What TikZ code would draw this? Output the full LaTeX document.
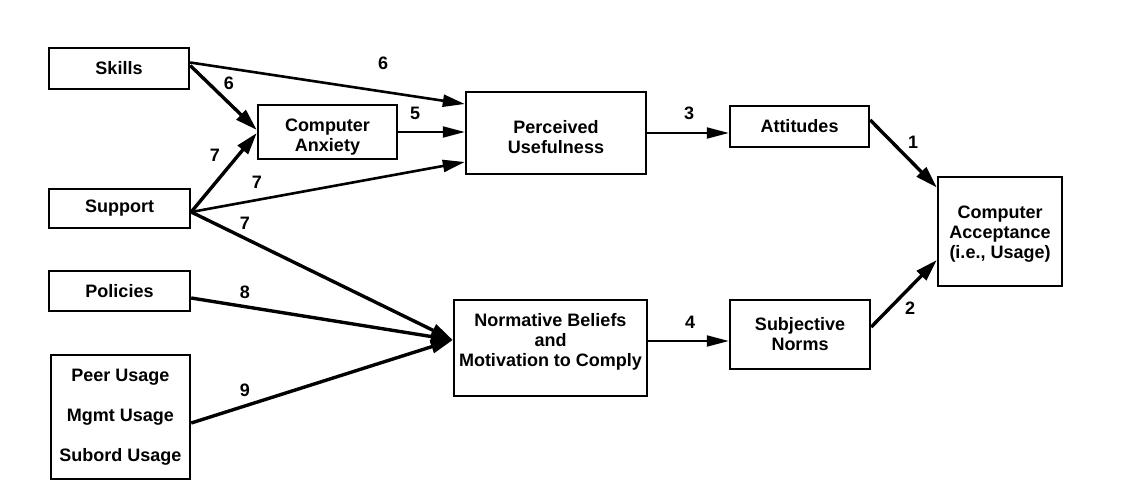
\documentclass[tikz,border=0pt]{standalone}
\usepackage{fontspec}
\setmainfont{Liberation Sans}
\usetikzlibrary{arrows.meta}
\begin{document}
\begin{tikzpicture}[x=1pt,y=-1pt,
  font=\fontsize{18}{20}\selectfont\bfseries,
  box/.style={draw,line width=2.4pt,inner sep=0pt,align=center},
  txt/.style={inner sep=0pt,align=center},
  num/.style={inner sep=0pt},
  heavy/.style={line width=3.4pt,-{Triangle[length=22pt,width=13pt]}},
  medium/.style={line width=2.6pt,-{Triangle[length=22pt,width=12pt]}},
  light/.style={line width=2pt,-{Triangle[length=22pt,width=11pt]}}]
\useasboundingbox (0,0) rectangle (1142,497);

% boxes
\node[box,minimum width=140pt,minimum height=41pt] (skills) at (119,68.5) {Skills};
\node[box,minimum width=141pt,minimum height=39pt] (support) at (119.5,208.5) {Support};
\node[box,minimum width=141pt,minimum height=40pt] (policies) at (119.5,291) {Policies};
\node[box,minimum width=139pt,minimum height=124pt] (peer) at (120.5,417)
  {Peer Usage\\[20pt]Mgmt Usage\\[20pt]Subord Usage};
\node[box,minimum width=139pt,minimum height=54pt] (ca) at (327.5,132) {};
\node[txt] (catext) at (327.5,137) {Computer\\Anxiety};
\node[box,minimum width=180pt,minimum height=82pt] (pu) at (556,133) {};
\node[txt] (putext) at (556,137) {Perceived\\Usefulness};
\node[box,minimum width=139pt,minimum height=41pt] (att) at (799.5,126.5) {Attitudes};
\node[box,minimum width=124pt,minimum height=109pt] (acc) at (1000,231.5) {};
\node[txt] (acctext) at (1000,234) {Computer\\Acceptance\\(i.e., Usage)};
\node[box,minimum width=193pt,minimum height=96pt] (nb) at (550.5,348) {};
\node[txt] (nbtext) at (550.5,342)
  {Normative Beliefs\\and\\Motivation to Comply};
\node[box,minimum width=140pt,minimum height=69pt] (sn) at (800,334.5) {Subjective\\Norms};

% paths into Computer Anxiety and Perceived Usefulness
\draw[medium] ([yshift=6pt]skills.east) -- ([yshift=29pt]pu.west);
\draw[heavy] ([yshift=3pt]skills.east) -- ([yshift=2pt]ca.west);
\draw[heavy] ([yshift=-3.5pt]support.east) -- ([yshift=-1pt]ca.west);
\draw[medium] ([yshift=-3.5pt]support.east) -- ([yshift=-29pt]pu.west);
\draw[light] (ca.east) -- (ca.east -| pu.west);

% paths into Normative Beliefs
\draw[heavy] ([yshift=-3.5pt]support.east) -- ([yshift=8pt]nb.west);
\draw[heavy] ([yshift=-7pt]policies.east) -- ([yshift=8pt]nb.west);
\draw[heavy] ([yshift=-6pt]peer.east) -- ([yshift=8pt]nb.west);

% right-hand chain
\draw[light] (pu.east) -- (pu.east -| att.west);
\draw[light] ([yshift=7pt]nb.east) -- ([yshift=7pt]nb.east -| sn.west);
\draw[heavy] ([yshift=6.5pt]att.east) -- ([yshift=44pt]acc.west);
\draw[heavy] ([yshift=7.5pt]sn.east) -- ([yshift=-28.5pt]acc.west);

% path numbers
\node[num] (n6a) at (383,63) {6};
\node[num] (n6b) at (229,83) {6};
\node[num] (n5) at (415,113) {5};
\node[num] (n7a) at (215,155) {7};
\node[num] (n7b) at (257,182) {7};
\node[num] (n7c) at (245,223) {7};
\node[num] (n8) at (245,292) {8};
\node[num] (n9) at (245,390) {9};
\node[num] (n3) at (689,113) {3};
\node[num] (n4) at (690,322) {4};
\node[num] (n1) at (913,142) {1};
\node[num] (n2) at (910,308) {2};
\end{tikzpicture}
\end{document}
